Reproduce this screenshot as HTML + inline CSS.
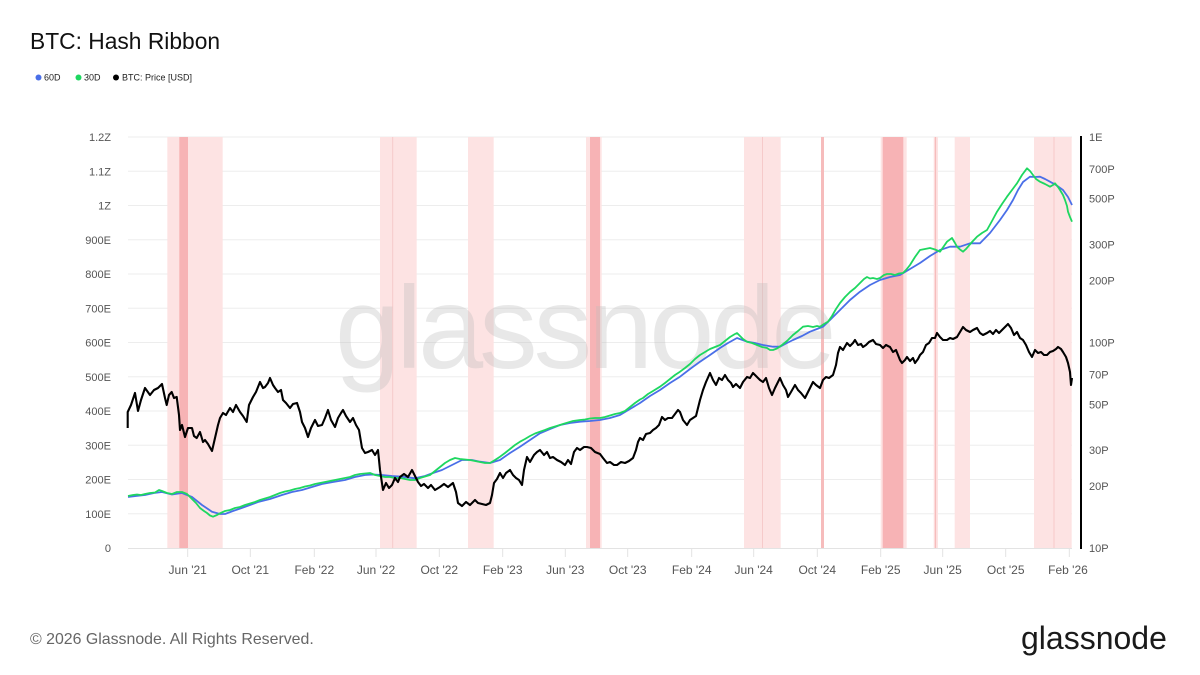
<!DOCTYPE html>
<html>
<head>
<meta charset="utf-8">
<style>
  html,body{margin:0;padding:0;background:#fff;}
  body{width:1200px;height:675px;overflow:hidden;}
  svg{display:block;font-family:"Liberation Sans",Arial,sans-serif;}
</style>
</head>
<body>
<svg width="1200" height="675" viewBox="0 0 1200 675" xmlns="http://www.w3.org/2000/svg">
  <rect width="1200" height="675" fill="#fff"/>

  <!-- Title -->
  <text x="30" y="49" font-size="22.8" fill="#111">BTC: Hash Ribbon</text>

  <!-- Legend -->
  <circle cx="38.5" cy="77.5" r="3" fill="#4a6fe8"/>
  <text x="44" y="80.5" font-size="9" fill="#222">60D</text>
  <circle cx="78.5" cy="77.5" r="3" fill="#1ed760"/>
  <text x="84" y="80.5" font-size="9" fill="#222">30D</text>
  <circle cx="116" cy="77.5" r="3" fill="#000"/>
  <text x="122" y="80.5" font-size="9" fill="#222">BTC: Price [USD]</text>

  <!-- Gridlines -->
  <g stroke="#ededed" stroke-width="1">
    <line x1="128" x2="1072" y1="137" y2="137"/>
    <line x1="128" x2="1072" y1="171.25" y2="171.25"/>
    <line x1="128" x2="1072" y1="205.5" y2="205.5"/>
    <line x1="128" x2="1072" y1="239.75" y2="239.75"/>
    <line x1="128" x2="1072" y1="274" y2="274"/>
    <line x1="128" x2="1072" y1="308.25" y2="308.25"/>
    <line x1="128" x2="1072" y1="342.5" y2="342.5"/>
    <line x1="128" x2="1072" y1="376.75" y2="376.75"/>
    <line x1="128" x2="1072" y1="411" y2="411"/>
    <line x1="128" x2="1072" y1="445.25" y2="445.25"/>
    <line x1="128" x2="1072" y1="479.5" y2="479.5"/>
    <line x1="128" x2="1072" y1="513.75" y2="513.75"/>
  </g>

  <!-- Bands -->
  <g>
    <rect x="167.3" y="137" width="55.4" height="411" fill="#fde3e3"/>
    <rect x="179.3" y="137" width="8.7" height="411" fill="#f7b3b5"/>
    <rect x="380" y="137" width="36.7" height="411" fill="#fde3e3"/>
    <rect x="392.2" y="137" width="1" height="411" fill="#f6caca"/>
    <rect x="468" y="137" width="25.7" height="411" fill="#fde3e3"/>
    <rect x="586" y="137" width="15.7" height="411" fill="#fde3e3"/>
    <rect x="590" y="137" width="10" height="411" fill="#f7b3b5"/>
    <rect x="744" y="137" width="36.7" height="411" fill="#fde3e3"/>
    <rect x="762" y="137" width="1" height="411" fill="#f6caca"/>
    <rect x="821" y="137" width="3" height="411" fill="#f6bcbc"/>
    <rect x="880.7" y="137" width="26" height="411" fill="#fde3e3"/>
    <rect x="882.7" y="137" width="20.6" height="411" fill="#f7b3b5"/>
    <rect x="933.7" y="137" width="4.3" height="411" fill="#fde3e3"/>
    <rect x="934.8" y="137" width="1.3" height="411" fill="#f6bcbc"/>
    <rect x="954.7" y="137" width="15.3" height="411" fill="#fde3e3"/>
    <rect x="1034" y="137" width="37.7" height="411" fill="#fde3e3"/>
    <rect x="1053.5" y="137" width="1" height="411" fill="#f6caca"/>
  </g>

  <!-- Watermark -->
  <text x="335" y="368" font-size="117" letter-spacing="-4" fill="#bdbdbd" fill-opacity="0.34">glassnode</text>

  <!-- Bottom axis -->
  <line x1="128" x2="1072" y1="548.5" y2="548.5" stroke="#e3e3e3" stroke-width="1"/>
  <g stroke="#e3e3e3" stroke-width="1">
    <line x1="187.7" x2="187.7" y1="549" y2="557"/>
    <line x1="250.3" x2="250.3" y1="549" y2="557"/>
    <line x1="314.3" x2="314.3" y1="549" y2="557"/>
    <line x1="376" x2="376" y1="549" y2="557"/>
    <line x1="439.3" x2="439.3" y1="549" y2="557"/>
    <line x1="502.7" x2="502.7" y1="549" y2="557"/>
    <line x1="565.3" x2="565.3" y1="549" y2="557"/>
    <line x1="627.7" x2="627.7" y1="549" y2="557"/>
    <line x1="691.7" x2="691.7" y1="549" y2="557"/>
    <line x1="753.7" x2="753.7" y1="549" y2="557"/>
    <line x1="817.3" x2="817.3" y1="549" y2="557"/>
    <line x1="880.7" x2="880.7" y1="549" y2="557"/>
    <line x1="942.7" x2="942.7" y1="549" y2="557"/>
    <line x1="1005.7" x2="1005.7" y1="549" y2="557"/>
    <line x1="1069.3" x2="1069.3" y1="549" y2="557"/>
  </g>

  <!-- X labels -->
  <g font-size="12" fill="#555" text-anchor="middle">
    <text x="187.7" y="574">Jun '21</text>
    <text x="250.3" y="574">Oct '21</text>
    <text x="314.3" y="574">Feb '22</text>
    <text x="376" y="574">Jun '22</text>
    <text x="439.3" y="574">Oct '22</text>
    <text x="502.7" y="574">Feb '23</text>
    <text x="565.3" y="574">Jun '23</text>
    <text x="627.7" y="574">Oct '23</text>
    <text x="691.7" y="574">Feb '24</text>
    <text x="753.7" y="574">Jun '24</text>
    <text x="817.3" y="574">Oct '24</text>
    <text x="880.7" y="574">Feb '25</text>
    <text x="942.7" y="574">Jun '25</text>
    <text x="1005.7" y="574">Oct '25</text>
    <text x="1068" y="574">Feb '26</text>
  </g>

  <!-- Left labels -->
  <g font-size="11" fill="#555" text-anchor="end">
    <text x="111" y="141">1.2Z</text>
    <text x="111" y="175.25">1.1Z</text>
    <text x="111" y="209.5">1Z</text>
    <text x="111" y="243.75">900E</text>
    <text x="111" y="278">800E</text>
    <text x="111" y="312.25">700E</text>
    <text x="111" y="346.5">600E</text>
    <text x="111" y="380.75">500E</text>
    <text x="111" y="415">400E</text>
    <text x="111" y="449.25">300E</text>
    <text x="111" y="483.5">200E</text>
    <text x="111" y="517.75">100E</text>
    <text x="111" y="552">0</text>
  </g>

  <!-- Right axis -->
  <line x1="1081" x2="1081" y1="136" y2="549" stroke="#000" stroke-width="2"/>
  <g font-size="11" fill="#555">
    <text x="1089" y="141">1E</text>
    <text x="1089" y="172.8">700P</text>
    <text x="1089" y="202.6">500P</text>
    <text x="1089" y="248.5">300P</text>
    <text x="1089" y="284.6">200P</text>
    <text x="1089" y="346.5">100P</text>
    <text x="1089" y="378.3">70P</text>
    <text x="1089" y="408.4">50P</text>
    <text x="1089" y="454">30P</text>
    <text x="1089" y="490.1">20P</text>
    <text x="1089" y="552">10P</text>
  </g>

  <!-- 60D blue -->
  <polyline fill="none" stroke="#4a6fe8" stroke-width="1.8" stroke-linejoin="round" points="128,497 136,496 145,495 154,493 162,492 172,494.5 182,493 192,497 202,505 212,511.7 220,514 225,514 233,511 241.7,508 250,505 258,502 270,499 282,495 292,492 302,490 312,487 322,484 333,482 345,480 355,477 365,475 373,474.5 382,475 392,476 402,476.7 415,478.3 425,476 433,473 442,470 452,465 462,460 472,460 480,461.7 490,463 500,460 510,453 520,446.7 530,440 540,433.3 550,429 560,425 570,423 580,421.7 590,421 600,420 610,418 620,415 630,409 640,403 650,396 660,390 670,383 680,376.7 690,369 700,361.7 710,355 720,348 728,343 737,338 747,341.7 755,343 763,345 773,346.7 780,346.7 787,343 793,340 802,336 810,331.7 817,329 823,326.7 830,320 840,310 850,300 860,291.7 870,285 880,280 890,277 900,275 910,269 920,263 930,256 940,250 950,246.7 960,246.7 970,243.3 980,243.3 990,233 1000,220 1007,210 1013,200 1018,190 1023,182 1030,176.7 1035,177 1040,176.7 1045,179 1050,181.7 1056,185 1063,190 1068,197 1072,205"/>

  <!-- 30D green -->
  <polyline fill="none" stroke="#1ed760" stroke-width="1.8" stroke-linejoin="round" points="128,496 133,495 137,494.5 141,495 145,494 150,493 155,492.5 159,490 162,491 167,493 172,494 177,492 182,492 187,494 192,499 196,503 200,508 204,511 207,513 210,515.5 213,516.7 217,515 220,513.3 225,511 230,510 235,508 240,507 245,505 250,503.5 255,502 260,500 265,498.5 270,497 275,495 280,493 285,491.5 290,490.5 295,489 300,488 305,486.5 310,485.5 315,484 320,483 325,482 330,481 335,480 340,479 345,478 350,477 355,475 360,474 365,473.5 370,473 375,475 380,476 385,477 390,477 395,478 400,478 405,479 410,480 415,480 420,478 425,476.5 430,475 435,471 440,467 445,463 450,460 455,458 460,459 465,459.5 470,460 475,461 480,462 485,463 490,463 495,460 500,456.7 505,453 510,449 515,445 520,441.7 525,439 530,436 535,433.5 540,431.7 545,430 550,428 555,426.5 560,425 563,424 568,422.5 573,421 580,420 585,419.5 590,418.5 595,418 600,418 605,417 610,415.5 615,414 620,413 625,411 630,407 635,403 640,399.5 643,398 648,394 653,391 660,386.7 665,383 670,379 675,375 680,371.7 685,368 690,364 695,359 700,355 705,352 710,349 715,347 720,345 725,341 730,337 735,334 737,333 740,336 743,339 747,341.7 752,343 757,345 762,347 767,348 770,350 773,350 777,348.5 782,345 787,341 793,335 798,331 803,326.7 808,326 813,327 817,326 820,326.7 824,324 828,321.7 832,316 836,309 840,303 845,297 850,292 855,288 860,283 864,279 867,277 870,278.5 873,278 877,279 880,278 884,275 887,274 891,274 895,275 899,273.5 903,273 906,270 910,265 915,257 920,250 925,249 930,248 935,249.5 940,251.7 944,246 947,241.7 952,238 955,243 957,246.7 960,249.5 963,251.7 966,249 968,246.7 972,242 977,236.7 982,233 987,230 992,221 997,211.7 1002,204 1007,196.7 1012,190 1017,183.3 1022,175 1027,168.3 1030,171 1033,175 1036,179 1040,181.7 1045,184 1050,186.7 1053,185 1055,183.3 1058,187 1060,190 1063,195 1065,200 1067,206 1068,211.7 1070,217 1072,221.7"/>

  <!-- BTC price black -->
  <polyline fill="none" stroke="#000" stroke-width="2.1" stroke-linejoin="round" points="127.7,428 127.7,412 131,405 135,393 138,411 141,400 145,388 150,395 154,390 158,388 162,384 165,398 166.7,405 169,395 171.7,392 174,398 176.7,397 179,415 180,430 182,425 185,437 188,428 192,428 194,436 196.7,438 200,432 203,442 205,440 208,444 212,451 215,438 218,425 220,418 223,413 226,415 230,408 233,412 236,405 240,412 243,416 246.7,422 249,405 253,397 256,392 260,382 263,388 265,387 268,383 270,378 273,385 275,388 278,392 281,390 283,400 286,403 290,408 293,404 297,403 300,412 302,422 305,428 308,437 311,428 315,420 318,426 322,425 325,418 328,410 331,420 335,427 338,418 341,413 343,410 346,416 350,422 353,418 356,425 359,430 362,448 365,453 368,452 372,450 375,455 378,450 380,470 383,490 386,483 389,488 392,485 395,478 398,482 400,477 404,474 408,477 412,470 415,476 418,482 421,486 424,484 428,488 431,485 435,490 440,487 444,484 448,487 453,483 456,492 458,503 462,506 466,502 470,505 475,500 478,503 482,504 486,505 490,503 492,495 494,483 497,479 500,473 503,478 506,473 510,470 513,475 516,478 519,480 522,485 524,470 527,457 530,462 534,455 537,452 540,450 544,455 547,452 550,458 553,457 557,460 561,462 565,465 568,460 571,464 574,452 577,448 580,450 584,447 587,447 591,448 595,452 600,454 603,458 607,463 610,462 614,465 617,465 621,462 625,463 629,461 633,458 636,450 638,442 640,438 643,440 646,434 650,433 653,430 656,428 659,425 662,417 665,420 668,418 672,418 675,414 678,410 680,412 683,420 687,425 690,420 693,418 696,416 700,400 703,390 706,382 710,373 713,380 716,385 719,378 722,380 725,375 728,380 731,383 733,387 736,384 740,388 743,382 747,377 750,378 753,373 757,377 760,380 763,382 766,378 769,388 772,395 775,388 778,382 780,378 783,385 786,390 788,397 791,392 795,385 798,390 801,393 805,398 808,392 811,386 813,382 816,385 820,388 823,380 826,377 829,378 833,375 836,365 838,353 840,347 843,350 847,343 850,346 853,343 855,340 858,345 861,344 863,347 866,345 869,342 873,340 876,344 880,345 883,348 886,345 890,347 893,352 896,350 898,355 900,360 902,363 905,360 907,357 910,361 913,358 915,363 918,359 920,355 923,352 926,345 929,343 932,338 935,338 937,333 940,337 943,340 947,340 950,338 953,339 957,337 960,332 963,327 966,330 970,332 973,330 977,328 980,333 983,335 987,333 990,331 993,334 996,330 999,333 1002,330 1005,327 1008,324 1011,328 1014,335 1017,332 1020,338 1023,340 1026,345 1029,352 1032,357 1035,350 1038,353 1041,352 1044,355 1047,355 1050,352 1053,351 1056,349 1058,347 1061,349 1063,352 1066,357 1068,363 1070,372 1071,385 1072,378"/>

  <!-- Footer -->
  <text x="30" y="644" font-size="15.9" fill="#666">© 2026 Glassnode. All Rights Reserved.</text>
  <text x="1021" y="649" font-size="32" letter-spacing="0" fill="#1a1a1a">glassnode</text>
</svg>
</body>
</html>
